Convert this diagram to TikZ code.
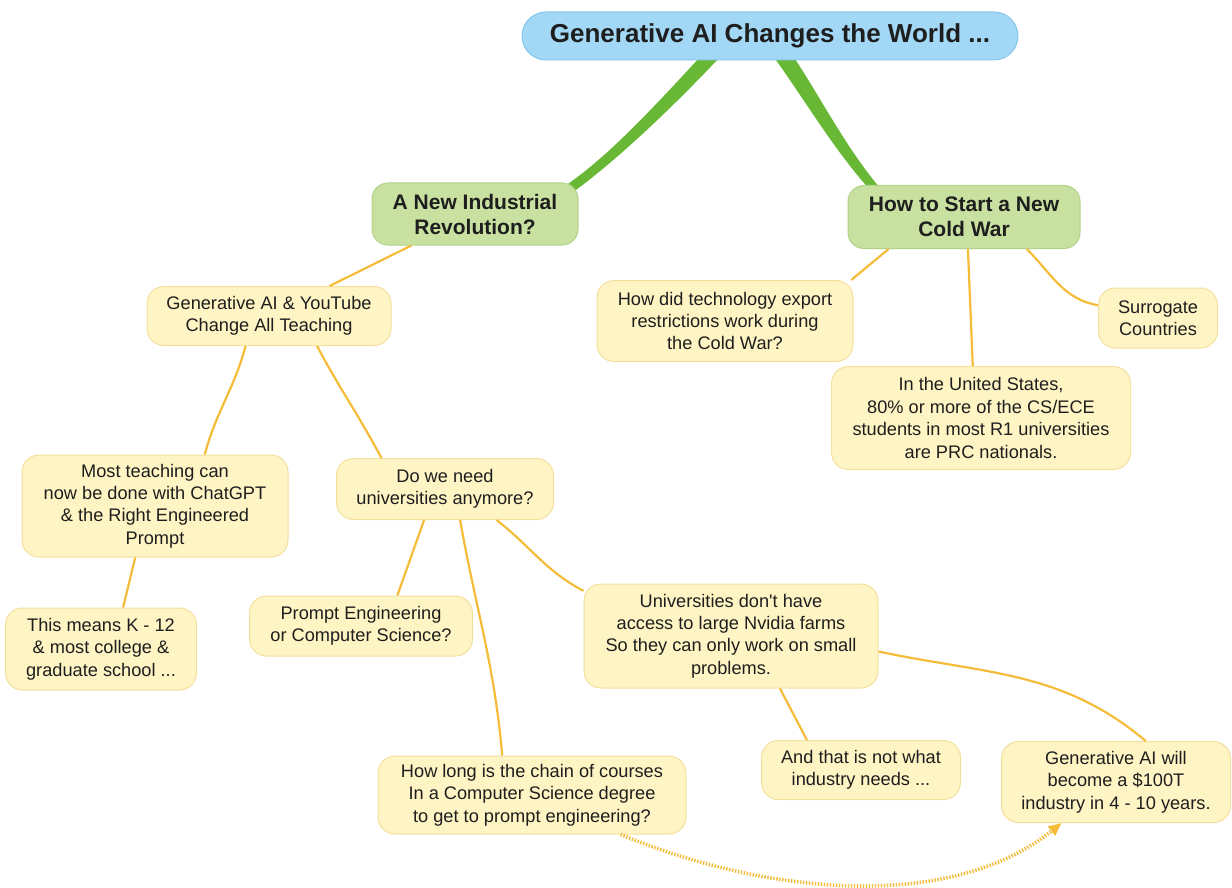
\documentclass[tikz,border=0pt]{standalone}
\usepackage{fontspec}
\setmainfont{Liberation Sans}
\usepackage{xcolor}
\usetikzlibrary{shapes,arrows,arrows.meta}
\usetikzlibrary{positioning, calc}

\definecolor{skyfill}{RGB}{162,216,245}
\definecolor{skyline}{RGB}{135,198,236}
\definecolor{leaffill}{RGB}{200,225,160}
\definecolor{leafline}{RGB}{178,210,138}
\definecolor{notefill}{RGB}{255,244,196}
\definecolor{noteline}{RGB}{244,224,158}
\definecolor{twigcol}{RGB}{245,188,58}
\definecolor{trunkcol}{RGB}{104,184,54}
\definecolor{inkcol}{RGB}{30,30,30}

\tikzset{
    rootbox/.style={draw=skyline, fill=skyfill, rounded corners=24pt,
        line width=1pt, text=inkcol, align=center, inner sep=2pt,
        font=\fontsize{26}{30}\selectfont\bfseries},
    topicbox/.style={draw=leafline, fill=leaffill, rounded corners=16pt,
        line width=1pt, text=inkcol, align=center, inner sep=2pt,
        font=\fontsize{21}{25}\selectfont\bfseries},
    notebox/.style={draw=noteline, fill=notefill, rounded corners=17pt,
        line width=1pt, text=inkcol, align=center, inner sep=2pt,
        font=\fontsize{18.2}{22.4}\selectfont},
    twig/.style={draw=twigcol, line width=2.2pt},
    trunk/.style={fill=trunkcol},
    jump/.style={draw=twigcol, line width=3.6pt,
        dash pattern=on 1.4pt off 1.6pt,
        -{Triangle[length=13pt, width=11pt]}}
}

\begin{document}
\begin{tikzpicture}[x=1pt, y=-1pt, node distance=100pt]

    \useasboundingbox (0,0) rectangle (1232,888);

    % green branches behind the nodes
    \fill[trunk] (701,56) .. controls (651,110) and (607,158) .. (562,188)
        -- (569,195) .. controls (614,163) and (670,110) .. (721,56) -- cycle;
    \fill[trunk] (773,56) .. controls (803,97) and (835,152) .. (872,192)
        -- (880,188) .. controls (846,148) and (818,93) .. (793,56) -- cycle;

    \node[rootbox, minimum width=496pt, minimum height=48pt] at (770,36)
        (world) {Generative AI Changes the World ...};

    \node[topicbox, minimum width=206pt, minimum height=62pt,
        below of = world, xshift=-295pt, yshift=-78pt]
        (revolution) {A New Industrial\\Revolution?};
    \node[topicbox, minimum width=232pt, minimum height=63pt,
        below of = world, xshift=194pt, yshift=-81pt]
        (coldwar) {How to Start a New\\Cold War};

    \node[notebox, minimum width=244pt, minimum height=59pt,
        below of = revolution, xshift=-206pt, yshift=-2pt]
        (teaching) {Generative AI \& YouTube\\Change All Teaching};
    \node[notebox, minimum width=266pt, minimum height=102pt,
        below of = teaching, xshift=-114pt, yshift=-90pt]
        (chatgpt) {Most teaching can\\now be done with ChatGPT\\\& the Right Engineered\\Prompt};
    \node[notebox, minimum width=191pt, minimum height=82pt,
        below of = chatgpt, xshift=-54pt, yshift=-43pt]
        (school) {This means K - 12\\\& most college \&\\graduate school ...};
    \node[notebox, minimum width=217pt, minimum height=61pt,
        below of = teaching, xshift=176pt, yshift=-73pt]
        (needuni) {Do we need\\universities anymore?};
    \node[notebox, minimum width=223pt, minimum height=60pt,
        below of = needuni, xshift=-84pt, yshift=-37pt]
        (prompt) {Prompt Engineering\\or Computer Science?};
    \node[notebox, minimum width=308pt, minimum height=78pt,
        below of = needuni, xshift=87pt, yshift=-206pt]
        (chain) {How long is the chain of courses\\In a Computer Science degree\\to get to prompt engineering?};
    \node[notebox, minimum width=294pt, minimum height=104pt,
        below of = needuni, xshift=286pt, yshift=-47pt]
        (nvidia) {Universities don\textquotesingle t have\\access to large Nvidia farms\\So they can only work on small\\problems.};
    \node[notebox, minimum width=199pt, minimum height=59pt,
        below of = nvidia, xshift=130pt, yshift=-34pt]
        (notneed) {And that is not what\\industry needs ...};
    \node[notebox, minimum width=229pt, minimum height=81pt,
        below of = nvidia, xshift=385pt, yshift=-46pt]
        (hundred) {Generative AI will\\become a \$100T\\industry in 4 - 10 years.};

    \node[notebox, minimum width=256pt, minimum height=81pt,
        below of = coldwar, xshift=-239pt, yshift=-4pt]
        (export) {How did technology export\\restrictions work during\\the Cold War?};
    \node[notebox, minimum width=299pt, minimum height=103pt,
        below of = coldwar, xshift=17pt, yshift=-101pt]
        (states) {In the United States,\\80\% or more of the CS/ECE\\students in most R1 universities\\are PRC nationals.};
    \node[notebox, minimum width=119pt, minimum height=60pt,
        below of = coldwar, xshift=194pt, yshift=-1pt]
        (surrogate) {Surrogate\\Countries};

    % yellow twigs
    \draw[twig] (revolution) -- (teaching);
    \draw[twig] (teaching.-128) to[out=-105,in=75] (chatgpt.46);
    \draw[twig] (teaching.-32) to[out=-62,in=118] (needuni.154);
    \draw[twig] (chatgpt.-111) -- (school.62);
    \draw[twig] (needuni.-124) -- (prompt.40);
    \draw[twig] (needuni.-64) to[out=-80,in=95] (chain.127);
    \draw[twig] (needuni.-31) to[out=-38,in=152] (nvidia.163);
    \draw[twig] (nvidia.-47) -- (notneed.151);
    \draw[twig] (nvidia.-6) to[out=-12,in=140] (hundred.54);
    \draw[twig] (coldwar.-157) -- (export.18);
    \draw[twig] (coldwar.-83) -- (states.99);
    \draw[twig] (coldwar.-27) to[out=-45,in=170] (surrogate.168);

    \draw[jump] (chain.-24) .. controls +(150,62) and +(-110,88) .. (hundred.-143);
\end{tikzpicture}
\end{document}
